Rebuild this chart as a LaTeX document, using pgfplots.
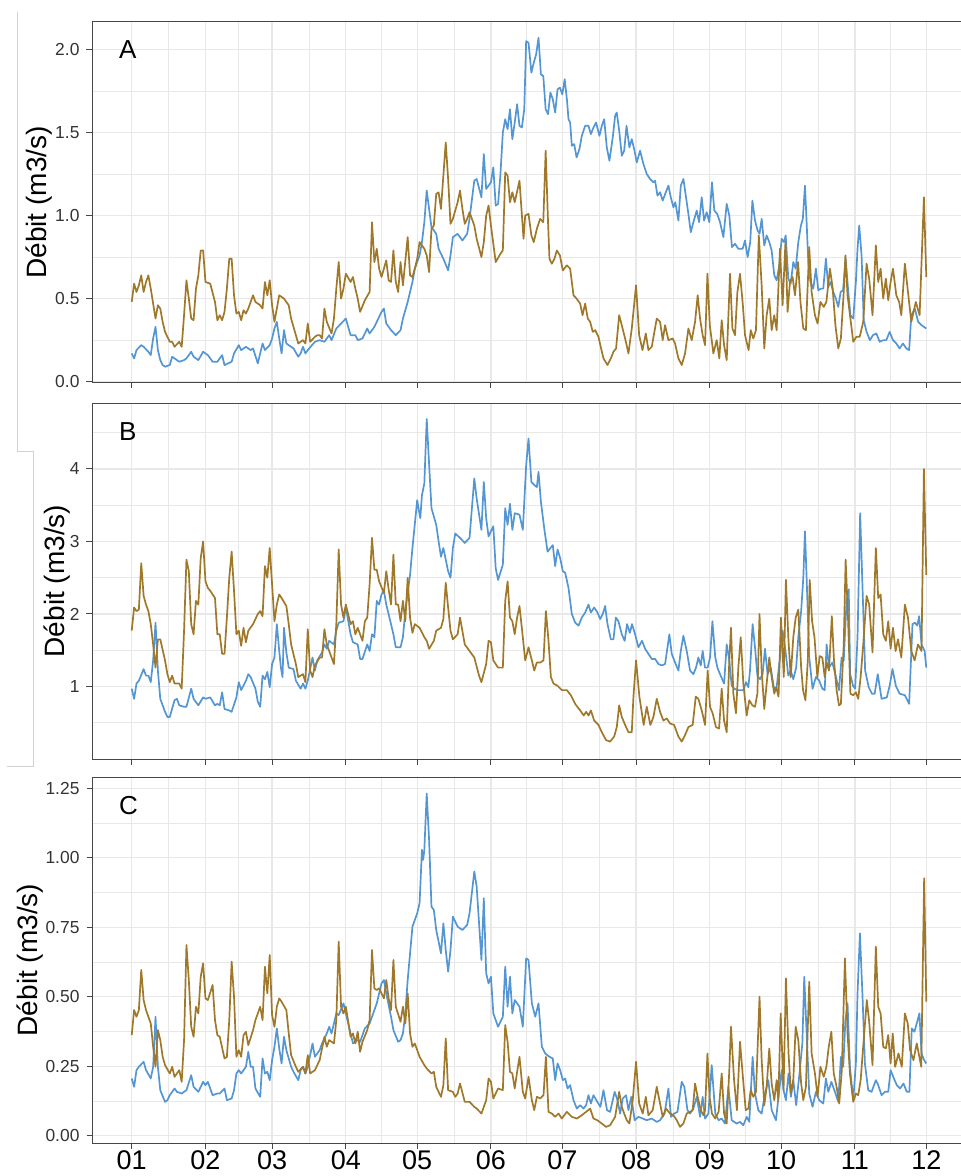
\documentclass[border=0pt]{standalone}
\usepackage{pgfplots}
\pgfplotsset{compat=1.18}
\usepackage{fontspec}
\setmainfont{Liberation Sans}
\definecolor{serblue}{RGB}{84,150,212}
\definecolor{serbrown}{RGB}{160,120,42}
\definecolor{gridc}{RGB}{232,232,232}
\definecolor{framec}{RGB}{70,70,70}
\pgfplotsset{
 panel/.style={
  scale only axis, width=437pt,
  xmin=-16.7, xmax=350.7,
  xtick={0,31,59,90,120,151,181,212,243,273,304,334},
  minor xtick={15.5,45,74.5,105,135.5,166,196.5,227.5,258,288.5,319},
  xticklabels={},
  grid=both,
  major grid style={draw=gridc, line width=0.6pt},
  minor grid style={draw=gridc, line width=0.35pt},
  axis line style={draw=framec, line width=0.5pt},
  tick pos=left, tick align=outside,
  major tick length=2.75pt, minor tick length=0pt,
  tick style={draw=framec, line width=0.5pt},
  yticklabel style={font=\fontsize{8.7}{10}\selectfont, text=black!80},
  xticklabel style={font=\fontsize{13.5}{16}\selectfont, text=black, yshift=2.5pt},
  /pgf/number format/assume math mode=true,
  ylabel={Débit (m3/s)},
  every axis y label/.style={rotate=90, anchor=center, font=\fontsize{14}{16}\selectfont},
  every axis plot/.append style={line width=0.85pt, line join=round, mark=none},
 }
}
\begin{document}
\begin{tikzpicture}
\draw[black!18, line width=0.5pt] (8.5pt,-6pt) -- (8.5pt,-225.5pt) -- (16.5pt,-225.5pt) -- (16.5pt,-383pt) -- (3.5pt,-383pt);
% ---------------- Panel A
\begin{axis}[panel, at={(46pt,-11pt)}, anchor=north west, height=180.5pt,
  ymin=-0.008, ymax=2.165,
  ytick={0,0.5,1,1.5,2}, yticklabels={0.0,0.5,1.0,1.5,2.0},
  minor ytick={0.25,0.75,1.25,1.75},
  ylabel style={at={([xshift=-26.5pt]axis description cs:0,0.5)}}]
\addplot[serblue] table[row sep=\\]{x y\\
0 0.17\\1 0.14\\2 0.19\\4 0.22\\5 0.21\\7 0.18\\8 0.16\\9 0.26\\10 0.33\\11 0.19\\12 0.13\\13 0.10\\14 0.09\\16 0.10\\17 0.15\\18 0.14\\20 0.12\\22 0.13\\23 0.14\\25 0.18\\26 0.15\\28 0.13\\30 0.18\\32 0.16\\34 0.12\\36 0.12\\38 0.16\\39 0.10\\42 0.12\\43 0.17\\45 0.22\\46 0.19\\48 0.21\\50 0.19\\51 0.20\\53 0.11\\55 0.23\\56 0.19\\58 0.22\\59 0.26\\60 0.32\\61 0.36\\62 0.26\\63 0.17\\64 0.31\\65 0.23\\67 0.21\\68 0.20\\70 0.15\\71 0.17\\72 0.21\\73 0.17\\74 0.19\\77 0.24\\79 0.25\\81 0.24\\83 0.28\\84 0.25\\86 0.32\\88 0.35\\90 0.38\\92 0.28\\94 0.28\\95 0.25\\97 0.26\\99 0.32\\100 0.29\\102 0.33\\103 0.36\\105 0.42\\106 0.44\\107 0.35\\109 0.31\\111 0.28\\113 0.31\\114 0.38\\116 0.48\\118 0.60\\119 0.68\\121 0.76\\122 0.84\\123 0.96\\124 1.15\\125 1.04\\126 0.93\\128 0.89\\129 0.80\\131 0.74\\133 0.67\\134 0.76\\135 0.87\\137 0.89\\139 0.85\\141 0.89\\142 0.98\\144 1.21\\145 1.22\\147 1.11\\148 1.37\\149 1.16\\151 1.20\\152 1.29\\153 1.06\\154 1.07\\155 1.25\\156 1.50\\157 1.58\\158 1.52\\159 1.64\\160 1.46\\161 1.56\\162 1.67\\163 1.54\\164 1.53\\165 1.64\\165.8 2.05\\166.8 2.04\\168 1.86\\169 1.92\\170 1.97\\171 2.07\\172 1.85\\173 1.84\\174 1.64\\175 1.61\\176 1.74\\177 1.70\\178 1.62\\179 1.76\\180 1.77\\181 1.73\\182 1.82\\183 1.69\\183.6 1.58\\184.3 1.56\\185 1.42\\186 1.43\\187 1.35\\188.2 1.40\\189.2 1.48\\190.6 1.54\\192 1.54\\193 1.49\\194.1 1.53\\195.2 1.56\\196.6 1.48\\197.6 1.54\\198.6 1.58\\199.7 1.41\\200.8 1.33\\202.2 1.47\\203.2 1.60\\203.9 1.62\\205 1.50\\206 1.36\\207 1.39\\208 1.54\\209.2 1.41\\210.2 1.46\\211.2 1.40\\212.3 1.32\\213.7 1.39\\215.1 1.31\\216.5 1.25\\217.9 1.22\\219.3 1.20\\220 1.21\\221 1.12\\222.1 1.14\\223.2 1.09\\224.5 1.14\\225.6 1.18\\226.6 1.11\\227.7 1.05\\228.5 1.08\\229.8 0.97\\230.8 1.18\\231.9 1.22\\233 1.11\\234 1.01\\235 0.90\\236.1 0.96\\237.5 1.03\\238.5 0.96\\239.6 1.11\\240.6 0.97\\241.7 1.02\\242.8 0.96\\243.9 1.20\\244.9 1.03\\246.1 1.01\\247.3 0.96\\248.7 0.87\\250.1 1.07\\251.2 1.00\\252.3 0.81\\253.6 0.83\\255 0.80\\256.8 0.80\\257.8 0.85\\258.9 0.75\\260 0.84\\260.9 1.09\\262 0.97\\263.1 0.91\\263.9 0.89\\264.8 0.98\\265.9 0.82\\266.9 0.88\\268 0.84\\269 0.79\\270.1 0.64\\271.1 0.61\\272.2 0.70\\273.2 0.86\\274.2 0.84\\274.9 0.88\\276 0.62\\277 0.59\\278.1 0.72\\279.1 0.68\\280.2 0.84\\281.3 0.94\\282.1 0.98\\283 1.18\\283.7 0.96\\284.4 0.72\\285.3 0.60\\286.5 0.56\\287.6 0.68\\288.6 0.55\\289.7 0.56\\290.7 0.56\\291.8 0.74\\292.8 0.57\\293.7 0.60\\294.9 0.54\\296 0.50\\297 0.45\\298 0.54\\299 0.55\\300.1 0.74\\301.1 0.56\\302.1 0.40\\303.3 0.38\\304.4 0.60\\305.1 0.80\\305.8 0.94\\306.8 0.76\\307.7 0.37\\308.9 0.30\\310.3 0.25\\311.6 0.28\\313 0.29\\314.4 0.24\\315.9 0.25\\317.2 0.25\\318.6 0.30\\320 0.25\\321.4 0.23\\322.8 0.20\\324.2 0.23\\325.6 0.20\\326.8 0.19\\327.7 0.40\\329.2 0.44\\330.6 0.36\\332 0.34\\334 0.32\\
};
\addplot[serbrown] table[row sep=\\]{x y\\
0 0.48\\1 0.59\\2 0.54\\3 0.58\\4 0.64\\5 0.54\\6 0.60\\7 0.64\\8 0.56\\10 0.38\\11 0.46\\12 0.44\\13 0.36\\14 0.30\\16 0.24\\17 0.24\\18 0.21\\20 0.24\\21 0.21\\22 0.40\\23 0.61\\24 0.50\\25 0.38\\26 0.37\\27 0.56\\28 0.64\\29 0.79\\30 0.79\\31 0.60\\33 0.59\\35 0.48\\36 0.37\\37 0.40\\38 0.37\\39 0.42\\40 0.56\\41 0.74\\42 0.74\\43 0.52\\44 0.41\\45 0.42\\46 0.37\\47 0.43\\48 0.41\\49 0.44\\51 0.52\\52 0.48\\54 0.46\\55 0.44\\56 0.60\\57 0.52\\58 0.61\\59 0.46\\60 0.36\\62 0.52\\64 0.50\\66 0.46\\67 0.38\\69 0.28\\70 0.23\\72 0.25\\73 0.23\\74 0.35\\75 0.24\\77 0.27\\78 0.28\\79 0.28\\80 0.26\\81 0.44\\82 0.36\\84 0.29\\85 0.38\\86 0.56\\87 0.72\\88 0.50\\89 0.56\\90 0.65\\92 0.60\\93 0.63\\94 0.56\\95 0.50\\96 0.42\\98 0.49\\100 0.54\\101 0.96\\102 0.72\\103 0.80\\104 0.68\\105 0.63\\106 0.68\\107 0.73\\108 0.61\\109 0.60\\110 0.79\\111 0.60\\112 0.54\\113 0.72\\114 0.58\\116 0.87\\117 0.64\\118 0.63\\119 0.68\\120 0.74\\121 0.84\\123 0.80\\124 0.76\\125 0.66\\126 0.92\\127 0.94\\128 1.13\\129 1.14\\130 1.04\\131 1.24\\132 1.44\\133 1.22\\134 0.95\\135 0.98\\137 1.08\\138 1.15\\139 1.04\\140 0.95\\141 0.98\\142 1.02\\144 0.94\\145 0.86\\147 0.75\\148 0.84\\149 1.00\\150 1.06\\151 0.94\\153 0.72\\155 0.77\\156 0.79\\157 1.26\\158 1.24\\159 1.08\\160 1.14\\161 1.08\\163 1.21\\164.7 0.86\\165.4 1.0\\166.8 1.01\\168 0.88\\169 0.84\\170.3 0.92\\171.7 0.98\\173 0.96\\174 1.39\\175 0.96\\175.6 0.74\\176.6 0.71\\177.7 0.74\\178.7 0.79\\180 0.76\\181.2 0.67\\182.9 0.70\\184.3 0.68\\185.7 0.52\\187 0.50\\188.5 0.47\\189.5 0.40\\190.6 0.47\\191.7 0.38\\192.7 0.36\\193.8 0.30\\194.8 0.31\\196.2 0.27\\197.3 0.20\\198.3 0.14\\200 0.10\\201.4 0.14\\202.5 0.18\\203.6 0.20\\204.9 0.40\\206 0.34\\207.4 0.26\\208.8 0.17\\210.2 0.32\\212 0.58\\213.3 0.28\\214.7 0.19\\216.1 0.29\\217.2 0.19\\218.6 0.21\\220.7 0.38\\222.1 0.36\\223.2 0.25\\224.2 0.34\\225.6 0.25\\227.4 0.26\\228.4 0.23\\229.8 0.14\\231.2 0.10\\232.6 0.17\\234 0.32\\235.4 0.25\\236.8 0.36\\237.9 0.52\\238.9 0.38\\240 0.28\\241 0.22\\242 0.65\\243 0.34\\244.5 0.17\\245.9 0.25\\247 0.14\\248 0.37\\249 0.22\\250.1 0.13\\251.5 0.65\\252.5 0.32\\253.6 0.28\\254.6 0.54\\255.7 0.65\\256.9 0.46\\257.8 0.28\\259.3 0.19\\260.2 0.31\\261.3 0.26\\262.4 0.31\\263.6 0.88\\264.8 0.58\\265.9 0.20\\266.9 0.40\\268 0.50\\269 0.31\\270.1 0.40\\271.1 0.31\\272.5 0.80\\273.6 0.46\\274.8 0.84\\275.7 0.42\\276.7 0.60\\277.8 0.63\\278.8 0.52\\280.1 0.72\\281.1 0.48\\282.3 0.32\\283.4 0.31\\284.8 0.81\\285.8 0.54\\287.2 0.40\\288.3 0.35\\289.5 0.48\\290.9 0.45\\292 0.48\\293.5 0.68\\294.6 0.57\\295.8 0.34\\297 0.20\\298.1 0.26\\299.3 0.54\\300 0.76\\300.9 0.52\\302.1 0.38\\303.3 0.24\\304.6 0.27\\306 0.27\\307.5 0.36\\308.9 0.71\\310 0.62\\311.4 0.40\\312.8 0.82\\313.8 0.60\\314.8 0.68\\315.9 0.50\\317 0.62\\318 0.49\\319 0.60\\320 0.68\\321.4 0.52\\322.6 0.48\\323.5 0.40\\325 0.71\\326.3 0.54\\327.7 0.36\\329.6 0.48\\331.2 0.40\\333 1.11\\334 0.63\\
};
\node[anchor=west, font=\fontsize{13}{15}\selectfont] at (axis description cs:0.0229,0.925) {A};
\end{axis}
% ---------------- Panel B
\begin{axis}[panel, at={(46pt,-201.5pt)}, anchor=north west, height=178pt,
  ymin=0, ymax=4.91,
  ytick={1,2,3,4}, yticklabels={1,2,3,4},
  minor ytick={0.5,1.5,2.5,3.5,4.5},
  ylabel style={at={([xshift=-17.7pt]axis description cs:0,0.5)}}]
\addplot[serblue] table[row sep=\\]{x y\\
0 0.97\\1 0.83\\2 1.04\\3 1.08\\5 1.24\\6 1.15\\7 1.15\\8 1.06\\9 1.36\\10 1.88\\11 1.22\\12 0.83\\14 0.65\\15 0.58\\16 0.58\\18 0.81\\19 0.83\\20 0.74\\22 0.72\\23 0.72\\25 0.97\\26 0.83\\28 0.74\\30 0.85\\31 0.83\\33 0.85\\35 0.74\\36 0.76\\37 0.74\\38 0.92\\39 0.69\\41 0.67\\42 0.65\\44 0.85\\45 1.06\\46 0.95\\48 1.08\\49 1.17\\50 1.13\\52 0.97\\53 0.79\\54 0.72\\55 1.15\\56 1.10\\57 1.20\\58 0.99\\59 1.31\\60 1.40\\61 1.86\\62 1.49\\62.7 1.26\\63.4 1.13\\64 1.81\\65 1.47\\66 1.26\\68 1.24\\69 1.08\\71 0.97\\72 1.04\\73 0.97\\74 1.08\\76 1.40\\77 1.22\\78 1.36\\80 1.47\\81 1.58\\82 1.52\\83 1.63\\85 1.58\\86 1.77\\87 1.88\\89 1.90\\90 2.09\\92 1.72\\93 1.61\\95 1.58\\96 1.38\\97 1.38\\99 1.58\\100 1.49\\101 1.72\\102 1.68\\103 2.18\\104 2.13\\105 2.27\\106 2.32\\107 2.13\\109 1.86\\110 1.72\\111 1.54\\113 1.54\\114 1.68\\115 2.04\\117 2.54\\118 2.91\\120 3.57\\120.7 3.43\\121.3 3.32\\122 3.64\\123 3.80\\124 4.69\\125 4.07\\126 3.46\\128 3.23\\129 3.00\\130 2.79\\131 2.91\\133 2.59\\134 2.50\\135 2.91\\136 3.11\\138 3.05\\140 2.98\\142 3.05\\143 3.46\\144 3.87\\145 3.59\\147 3.16\\148 3.82\\149 3.32\\150 3.07\\152 3.21\\153 2.63\\154 2.47\\156 2.68\\157 3.46\\158 3.23\\159 3.52\\160 3.16\\161 3.39\\163 3.37\\164.4 3.16\\165.8 4.05\\166.8 4.42\\168 3.82\\169.2 3.78\\170.3 3.75\\171 3.96\\172 3.55\\173.4 3.18\\174.8 2.86\\176 2.91\\177 2.95\\178 2.66\\179 2.89\\180.1 2.77\\181.2 2.59\\182.2 2.57\\183.6 2.36\\185 2.00\\186.4 1.88\\187.8 1.84\\189.2 1.95\\190.6 2.02\\192 2.13\\193 2.02\\194.4 2.09\\195.8 2.02\\196.9 1.93\\198 2.00\\199 2.11\\200 1.86\\201.4 1.65\\202.5 1.65\\203.5 1.95\\204.6 1.90\\206 1.72\\207.2 1.63\\208.2 1.86\\209.4 1.74\\210.3 1.86\\211.6 1.72\\213 1.54\\214.5 1.63\\215.8 1.52\\217.2 1.45\\218.6 1.38\\220 1.38\\221.4 1.31\\222.8 1.29\\224.2 1.31\\226 1.72\\227 1.45\\228.4 1.33\\229.8 1.22\\230.8 1.49\\231.9 1.70\\233.3 1.49\\234.7 1.22\\236.1 1.17\\237.2 1.26\\238.2 1.40\\239.2 1.29\\240 1.49\\241 1.26\\242.1 1.26\\243.1 1.40\\244.1 1.90\\245.3 1.40\\246.2 1.26\\247.3 1.17\\249 1.04\\250.1 1.58\\251.2 1.36\\252.2 1.01\\253.3 0.97\\254.6 0.95\\255.7 0.95\\257.1 0.95\\258.2 1.06\\259.2 0.99\\259.9 1.22\\261 1.86\\262 1.54\\263 1.15\\264.1 1.10\\265.2 1.17\\266.2 1.52\\267.3 1.17\\268.6 1.26\\270 0.97\\271.1 0.99\\272.5 1.40\\273.6 1.77\\274.8 1.49\\276 1.15\\277 1.22\\278.1 1.10\\279.3 1.26\\280.2 1.68\\281.4 2.04\\282.3 2.50\\283 3.14\\283.7 2.50\\284.8 1.40\\286.2 0.97\\287.6 1.13\\289 1.08\\290.3 0.97\\291.3 0.95\\292.1 1.58\\293.1 1.26\\294.5 1.33\\295.9 1.15\\297.3 0.95\\298.4 1.40\\299.3 1.36\\300.5 2.18\\301.4 2.34\\302 1.17\\303.2 1.01\\304.1 0.97\\305.1 1.68\\306.2 3.39\\307.2 2.36\\308.3 1.22\\309.8 0.99\\311.2 0.90\\312.3 0.90\\313.6 1.17\\315.2 0.83\\317.4 0.85\\318.6 1.01\\319.8 1.24\\321.2 1.01\\322.8 0.90\\325 0.88\\326.8 0.76\\328.2 1.86\\329.2 1.88\\330.2 1.84\\331 1.97\\332 1.58\\333.3 1.49\\334 1.26\\
};
\addplot[serbrown] table[row sep=\\]{x y\\
0 1.77\\1 2.09\\2 2.04\\3 2.06\\4 2.70\\5 2.25\\6 2.13\\7 2.04\\8 1.86\\9 1.58\\10 1.26\\11 1.65\\12 1.65\\14 1.36\\15 1.17\\16 1.06\\17 1.15\\18 1.04\\20 1.04\\21 0.97\\22 1.77\\23 2.75\\24 2.59\\25 1.86\\26 1.72\\27 2.18\\28 2.13\\29 2.77\\30 3.00\\31 2.45\\32 2.36\\33 2.32\\35 2.22\\36 1.72\\37 1.72\\38 1.45\\39 1.45\\40 1.95\\41 2.50\\42 2.86\\43 2.32\\44 1.72\\45 1.77\\46 1.56\\47 1.81\\48 1.61\\49 1.77\\51 1.86\\53 2.00\\54 2.04\\55 1.97\\56 2.66\\57 2.50\\58 2.91\\59 2.41\\60 1.90\\61 2.13\\62 2.27\\63 2.22\\65 2.11\\66 1.86\\67 1.58\\69 1.31\\70 1.13\\72 1.17\\73 1.06\\74 1.79\\75 1.22\\76 1.13\\77 1.29\\79 1.40\\80 1.40\\81 1.79\\82 1.58\\84 1.40\\85 1.31\\86 1.86\\87 2.89\\88 2.13\\89 1.95\\90 2.13\\92 1.86\\93 1.90\\94 1.72\\95 1.81\\97 1.63\\98 1.90\\99 1.95\\100 2.41\\101 3.05\\102 2.61\\103 2.61\\104 2.45\\106 2.29\\107 2.59\\108 2.34\\109 2.13\\110 2.82\\111 2.13\\112 2.13\\113 1.90\\114 2.18\\115 1.90\\116 2.50\\117 1.95\\118 1.74\\119 1.86\\121 1.81\\123 1.68\\124 1.63\\125 1.52\\127 1.63\\128 1.77\\130 1.81\\131 1.93\\132 2.43\\133 2.09\\134 1.77\\135 1.65\\137 1.72\\138 1.95\\140 1.58\\142 1.49\\144 1.40\\146 1.15\\147 1.06\\149 1.31\\150 1.63\\151 1.61\\152 1.36\\154 1.26\\156 1.26\\157 2.18\\158 2.45\\159 1.95\\160 1.90\\161 1.72\\162 1.95\\163 2.11\\164.4 1.68\\165.4 1.36\\166.8 1.54\\168.2 1.36\\169.2 1.22\\170.3 1.33\\171.7 1.33\\173.1 1.36\\174.1 2.04\\175.2 1.63\\176.2 1.13\\177.3 1.04\\179 1.01\\180.8 0.95\\182.9 0.95\\184.6 0.88\\186.4 0.76\\188.5 0.67\\190 0.60\\191 0.65\\192 0.60\\193 0.67\\194.4 0.53\\196.2 0.47\\197.6 0.37\\199.4 0.26\\201.1 0.24\\202.8 0.31\\203.9 0.44\\204.9 0.74\\206 0.58\\207.4 0.47\\208.8 0.37\\210.2 0.37\\210.9 0.86\\212 1.36\\213.4 0.86\\215.2 0.47\\216.5 0.72\\218 0.47\\219.3 0.58\\220.7 0.83\\222.1 0.65\\223.5 0.53\\224.9 0.56\\226.3 0.49\\228 0.47\\229.8 0.31\\231.2 0.24\\232.6 0.33\\234 0.44\\235.8 0.47\\237.1 0.86\\238.2 0.83\\239.6 0.67\\241 0.47\\242.1 1.22\\243.1 0.72\\244.2 0.63\\245.6 0.44\\246.9 0.42\\248 0.97\\249 0.53\\250.1 0.37\\251.2 1.36\\251.9 1.81\\252.9 0.90\\254 0.63\\255 1.26\\256 1.68\\257.1 1.04\\258.5 0.60\\259.6 0.81\\260.9 0.74\\262 0.72\\263 0.90\\263.9 2.00\\264.8 1.22\\265.9 0.69\\266.9 1.04\\268 1.40\\269 1.13\\270.1 0.90\\270.9 0.99\\271.9 0.86\\272.9 1.95\\274.1 1.13\\275 2.47\\276 1.68\\277 1.13\\278.1 1.68\\279.1 1.95\\280.2 2.06\\281.4 1.26\\282.2 0.95\\283.2 0.81\\284.2 1.36\\285 2.47\\286 1.90\\287 1.68\\288.2 1.13\\289.2 1.42\\290.3 1.40\\291.3 1.13\\292.1 1.33\\293.1 1.22\\294.3 1.97\\295.2 1.36\\296.3 0.95\\297.3 0.74\\298.1 0.76\\299.3 1.58\\300.1 2.75\\301.1 1.95\\302.1 0.90\\303.3 0.88\\304.4 0.92\\305.4 0.83\\306.4 1.13\\307.5 1.58\\308.9 2.25\\310 2.13\\311.4 1.47\\312.8 2.91\\313.8 2.22\\314.8 2.27\\315.9 1.72\\317 1.63\\318 1.90\\319 1.52\\320 1.81\\321.1 1.49\\322.1 1.65\\323.5 1.40\\325 2.13\\326.3 1.95\\327.7 1.49\\329.1 1.36\\330.5 1.58\\332 1.49\\333 4.00\\334 2.54\\
};
\node[anchor=west, font=\fontsize{13}{15}\selectfont] at (axis description cs:0.0229,0.919) {B};
\end{axis}
% ---------------- Panel C
\begin{axis}[panel, at={(46pt,-388.5pt)}, anchor=north west, height=183pt,
  ymin=-0.026, ymax=1.29,
  ytick={0,0.25,0.5,0.75,1,1.25}, yticklabels={0.00,0.25,0.50,0.75,1.00,1.25},
  minor ytick={0.125,0.375,0.625,0.875,1.125},
  xticklabels={01,02,03,04,05,06,07,08,09,10,11,12},
  ylabel style={at={([xshift=-31pt]axis description cs:0,0.5)}}]
\addplot[serblue] table[row sep=\\]{x y\\
0 0.206\\1 0.176\\2 0.236\\3 0.248\\5 0.266\\6 0.236\\8 0.206\\9 0.248\\10 0.428\\11 0.248\\12 0.164\\14 0.122\\15 0.128\\16 0.146\\18 0.170\\19 0.158\\21 0.152\\23 0.164\\25 0.218\\26 0.176\\28 0.158\\30 0.194\\31 0.182\\32 0.194\\34 0.146\\36 0.152\\37 0.152\\39 0.170\\40 0.128\\42 0.134\\43 0.164\\44 0.224\\45 0.236\\46 0.224\\48 0.248\\49 0.302\\50 0.248\\51 0.248\\52 0.170\\54 0.140\\55 0.278\\56 0.224\\57 0.230\\58 0.200\\59 0.272\\60 0.320\\61 0.386\\62 0.314\\63 0.260\\64 0.356\\65 0.308\\67 0.248\\68 0.230\\70 0.200\\71 0.236\\72 0.248\\73 0.224\\74 0.248\\76 0.332\\77 0.284\\79 0.308\\80 0.332\\82 0.368\\83 0.392\\84 0.368\\86 0.440\\87 0.434\\89 0.476\\90 0.440\\92 0.368\\93 0.332\\95 0.344\\96 0.338\\98 0.386\\100 0.404\\101 0.428\\103 0.476\\104 0.512\\105 0.548\\106 0.560\\107 0.512\\109 0.428\\110 0.380\\112 0.338\\113 0.344\\114 0.368\\115 0.440\\116 0.560\\117 0.656\\118 0.752\\120 0.800\\121 0.836\\122 1.028\\122.5 0.992\\123 1.028\\124 1.231\\125 1.064\\126 0.824\\127 0.812\\128 0.740\\130 0.656\\131 0.764\\132 0.668\\133 0.590\\134 0.668\\135 0.788\\137 0.752\\139 0.740\\141 0.758\\142 0.800\\144 0.950\\145 0.896\\147 0.632\\148 0.854\\149 0.584\\150 0.548\\151 0.572\\152 0.440\\154 0.392\\156 0.428\\157 0.608\\158 0.464\\159 0.572\\160 0.440\\161 0.488\\163 0.464\\164.4 0.392\\165.8 0.638\\166.8 0.632\\168.2 0.476\\169.6 0.428\\171 0.476\\172.4 0.320\\173.8 0.296\\175.6 0.284\\177 0.278\\178 0.200\\179 0.260\\180.1 0.236\\181.2 0.200\\182.2 0.206\\183.2 0.170\\184.3 0.182\\185.7 0.128\\187.1 0.098\\188.5 0.110\\189.9 0.098\\191 0.110\\192 0.146\\193 0.116\\194.1 0.146\\195.3 0.128\\197 0.104\\198.3 0.164\\199.8 0.092\\201.1 0.086\\203 0.158\\204.2 0.128\\205.3 0.080\\206.4 0.134\\207.8 0.146\\208.8 0.092\\210 0.140\\211.4 0.056\\213 0.068\\214.8 0.062\\216.5 0.056\\218.6 0.062\\220.7 0.050\\222.1 0.056\\224 0.080\\225.6 0.170\\226.7 0.068\\228 0.080\\229.4 0.086\\231.2 0.194\\232.3 0.176\\233.6 0.092\\234.7 0.080\\236.1 0.098\\237.5 0.140\\238.9 0.068\\240 0.140\\241 0.062\\242.4 0.080\\243.8 0.254\\245.3 0.080\\246.7 0.056\\248 0.062\\249.4 0.044\\250.8 0.176\\252.2 0.056\\254.3 0.044\\255.7 0.050\\257.1 0.038\\258.5 0.068\\259.6 0.050\\261 0.284\\262 0.152\\263.4 0.092\\264.8 0.080\\266.2 0.152\\267.6 0.200\\269 0.092\\270.8 0.056\\272.2 0.164\\273.2 0.236\\274 0.164\\275 0.128\\276.1 0.224\\277.1 0.140\\278.1 0.200\\279.3 0.110\\280.7 0.224\\281.9 0.332\\282.7 0.572\\283.7 0.368\\284.8 0.152\\286.2 0.104\\287.6 0.158\\289 0.128\\290.7 0.116\\291.8 0.206\\292.8 0.158\\294.1 0.194\\295.6 0.158\\297 0.122\\298.1 0.284\\299.1 0.248\\300 0.416\\300.9 0.476\\301.9 0.248\\303.3 0.128\\304.4 0.260\\305.1 0.512\\306.1 0.728\\307.2 0.500\\308.2 0.260\\309.6 0.164\\311 0.158\\312.8 0.200\\313.8 0.182\\315.2 0.146\\316.6 0.158\\318 0.158\\319 0.236\\320.4 0.206\\321.6 0.182\\323 0.170\\324.4 0.188\\325.8 0.158\\326.9 0.158\\327.9 0.386\\329 0.374\\330 0.404\\331.1 0.440\\332 0.296\\333.1 0.272\\334 0.260\\
};
\addplot[serbrown] table[row sep=\\]{x y\\
0 0.362\\1 0.452\\2 0.428\\3 0.452\\4 0.596\\5 0.488\\6 0.452\\8 0.404\\9 0.320\\10 0.248\\11 0.380\\12 0.344\\13 0.284\\14 0.254\\16 0.224\\17 0.248\\18 0.212\\19 0.224\\20 0.236\\21 0.194\\22 0.344\\23 0.686\\24 0.560\\25 0.392\\26 0.356\\27 0.464\\28 0.440\\29 0.572\\30 0.620\\31 0.494\\32 0.488\\34 0.542\\35 0.416\\36 0.362\\37 0.356\\39 0.278\\40 0.284\\41 0.416\\42 0.626\\43 0.500\\44 0.284\\45 0.308\\46 0.284\\47 0.362\\48 0.374\\49 0.326\\51 0.380\\52 0.416\\53 0.440\\54 0.464\\55 0.416\\56 0.608\\57 0.512\\58 0.650\\59 0.434\\60 0.392\\61 0.464\\62 0.494\\63 0.482\\65 0.452\\66 0.368\\67 0.290\\69 0.248\\70 0.230\\72 0.248\\73 0.224\\74 0.290\\75 0.224\\77 0.236\\78 0.254\\79 0.272\\81 0.356\\82 0.320\\83 0.344\\85 0.332\\86 0.416\\87 0.698\\88 0.464\\89 0.440\\90 0.464\\92 0.356\\93 0.368\\94 0.332\\95 0.374\\96 0.302\\97 0.338\\99 0.380\\100 0.416\\101 0.668\\102 0.530\\103 0.524\\104 0.530\\106 0.494\\107 0.560\\108 0.494\\109 0.452\\110 0.632\\111 0.464\\113 0.410\\114 0.464\\115 0.404\\116 0.512\\117 0.368\\118 0.320\\119 0.332\\121 0.284\\123 0.254\\124 0.242\\126 0.224\\127 0.230\\128 0.176\\130 0.140\\131 0.182\\132 0.350\\133 0.164\\135 0.158\\136 0.140\\137 0.152\\138 0.188\\140 0.122\\141 0.122\\142 0.122\\144 0.104\\145 0.098\\147 0.080\\149 0.128\\150 0.206\\151 0.194\\152 0.134\\154 0.170\\156 0.164\\157 0.398\\158 0.338\\159 0.230\\160 0.224\\161 0.170\\162 0.230\\163 0.284\\164.4 0.158\\165.4 0.134\\166.8 0.212\\168.2 0.128\\169.2 0.092\\170.3 0.140\\171.7 0.134\\173.1 0.146\\174.1 0.284\\175.2 0.086\\176.6 0.080\\178 0.068\\179.4 0.080\\180.8 0.062\\182.9 0.086\\185 0.068\\187.1 0.062\\189.2 0.074\\191 0.086\\192.7 0.098\\194.1 0.062\\195.7 0.056\\197.6 0.044\\199.4 0.032\\201.1 0.038\\203.2 0.068\\204.9 0.158\\206 0.104\\207 0.080\\208.1 0.056\\209.2 0.044\\210.6 0.128\\212 0.266\\213.3 0.116\\214.8 0.080\\216.1 0.140\\217.2 0.074\\219 0.092\\220.7 0.176\\221.8 0.128\\223.2 0.068\\224.6 0.098\\226.3 0.080\\227.7 0.074\\229.1 0.056\\230.5 0.032\\231.9 0.044\\233.3 0.080\\234.7 0.086\\235.8 0.092\\236.8 0.188\\237.9 0.140\\239.2 0.092\\240.3 0.074\\241 0.092\\242 0.296\\242.9 0.140\\243.9 0.080\\245.3 0.062\\246.7 0.086\\248 0.224\\249 0.080\\250.1 0.044\\251.2 0.236\\251.9 0.392\\253.2 0.200\\254.4 0.092\\255.7 0.338\\256.9 0.212\\258.1 0.092\\259.2 0.098\\260.2 0.164\\261.3 0.140\\262.4 0.158\\263.9 0.500\\264.8 0.272\\265.9 0.110\\266.9 0.176\\268 0.314\\269 0.188\\270.1 0.128\\271.1 0.200\\271.8 0.128\\272.8 0.440\\274 0.164\\275 0.566\\276.1 0.296\\277.1 0.152\\278.1 0.200\\279.1 0.392\\280.2 0.344\\281.4 0.188\\282.3 0.128\\283.4 0.176\\284.8 0.554\\285.8 0.296\\287.2 0.224\\288.3 0.140\\289.5 0.248\\290.9 0.212\\292 0.248\\293 0.320\\294.1 0.374\\295.1 0.224\\296.3 0.176\\297.4 0.116\\298.5 0.236\\299.8 0.638\\300.9 0.368\\301.9 0.224\\303.3 0.122\\304.4 0.152\\305.4 0.146\\306.4 0.200\\307.8 0.356\\309 0.488\\310 0.410\\311.4 0.254\\312.8 0.680\\313.8 0.464\\314.8 0.440\\315.9 0.320\\317 0.314\\318 0.362\\319 0.260\\319.9 0.368\\320.9 0.248\\322.3 0.296\\323.7 0.248\\325 0.440\\326.2 0.404\\327.2 0.308\\328.6 0.272\\330 0.332\\331.9 0.248\\333.1 0.926\\334 0.482\\
};
\node[anchor=west, font=\fontsize{13}{15}\selectfont] at (axis description cs:0.0229,0.921) {C};
\end{axis}
\pgfresetboundingbox
\useasboundingbox (0pt,0pt) rectangle (480pt,-588pt);
\end{tikzpicture}
\end{document}
